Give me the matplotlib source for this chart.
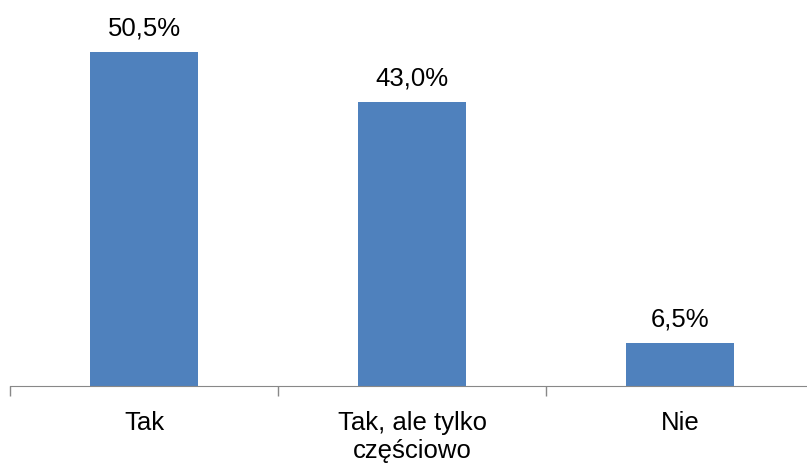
import matplotlib
matplotlib.use("Agg")
import matplotlib.pyplot as plt

categories = ["Tak", "Tak, ale tylko\nczęściowo", "Nie"]
values = [50.5, 43.0, 6.5]
value_labels = ["50,5%", "43,0%", "6,5%"]

plt.rcParams['font.family'] = ['Liberation Sans', 'DejaVu Sans']

fig = plt.figure(figsize=(8.07, 4.64), dpi=100)
# axes: baseline at y=387px, left at x=10px
base = 387 / 464
ax = fig.add_axes([10 / 807, 1 - base, 804 / 807, base])

x = range(len(categories))
ax.bar(x, values, width=0.4, color="#4F81BD", zorder=2)
for xi, v, lab in zip(x, values, value_labels):
    ax.annotate(lab, (xi, v), xytext=(0, 9), textcoords="offset points",
                ha="center", va="bottom", fontsize=18.5, color="black")

ax.set_xlim(-0.5, 2.5)
ax.set_ylim(0, 387 / 6.61)
ax.set_yticks([])
ax.set_xticks([-0.5, 0.5, 1.5, 2.5])
ax.set_xticklabels([])
ax.set_xticks(list(x), minor=True)
ax.set_xticklabels(categories, minor=True, fontsize=18.5, linespacing=1.25)
ax.tick_params(axis="x", which="major", length=7, color="#888888", width=1)
ax.tick_params(axis="x", which="minor", length=0, pad=17)

for s in ["top", "right", "left"]:
    ax.spines[s].set_visible(False)
ax.spines["bottom"].set_color("#888888")

fig.savefig("out.png", dpi=100)
